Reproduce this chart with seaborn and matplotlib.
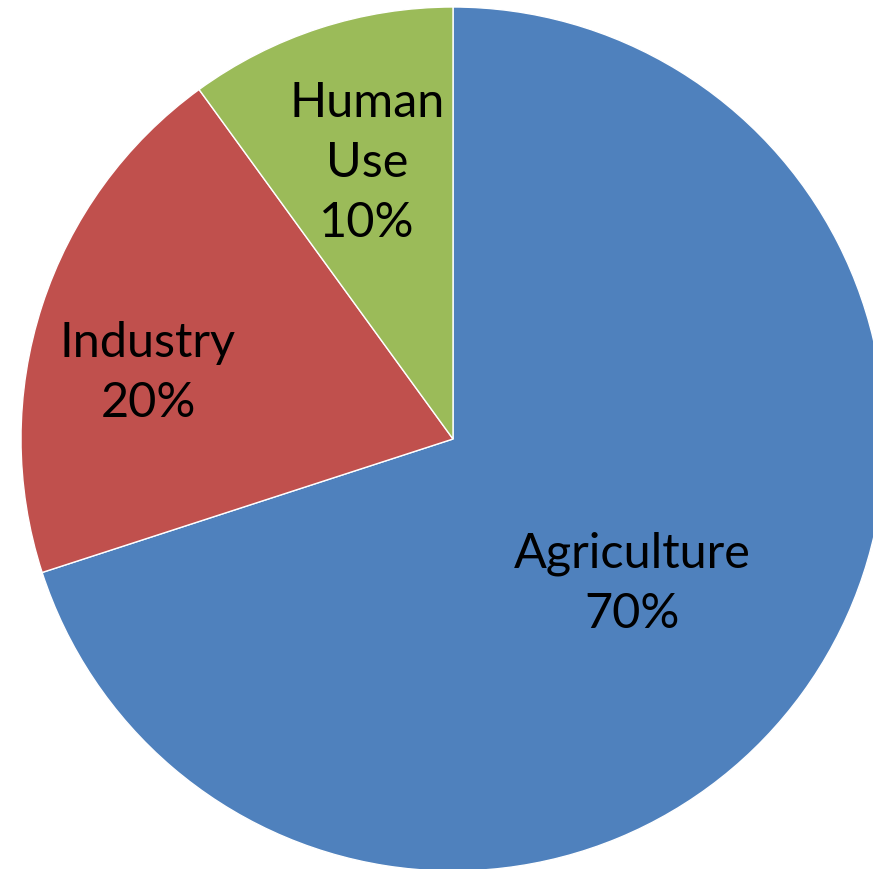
import matplotlib
matplotlib.use("Agg")
import matplotlib.pyplot as plt
import seaborn as sns

categories = ["Agriculture", "Industry", "Human\nUse"]
values = [70, 20, 10]
colors = ["#4F81BD", "#C0504D", "#9BBB59"]

sns.set_theme(style="white")
plt.rcParams['font.family'] = ['Lato', 'DejaVu Sans']

CX, CY, R = 453, 440, 432

fig = plt.figure(figsize=(8.73, 8.70), dpi=100)
ax = fig.add_axes([0, 0, 1, 1])
palette = sns.color_palette(colors)
wedges, _ = ax.pie(values, colors=palette, startangle=90, counterclock=False,
                   radius=1.0, wedgeprops=dict(edgecolor="white", linewidth=1.0))

label_px = [(632, 584), (148, 373), (367, 163)]
for cat, v, (px, py) in zip(categories, values, label_px):
    ax.text((px - CX) / R, (CY - py) / R, f"{cat}\n{v}%", ha="center", va="center",
            fontsize=35, color="black", linespacing=1.45)

ax.set_xlim(-CX / R, (873 - CX) / R)
ax.set_ylim((CY - 870) / R, CY / R)
ax.set_aspect("auto")
ax.axis("off")
fig.savefig("out.png", dpi=100)
